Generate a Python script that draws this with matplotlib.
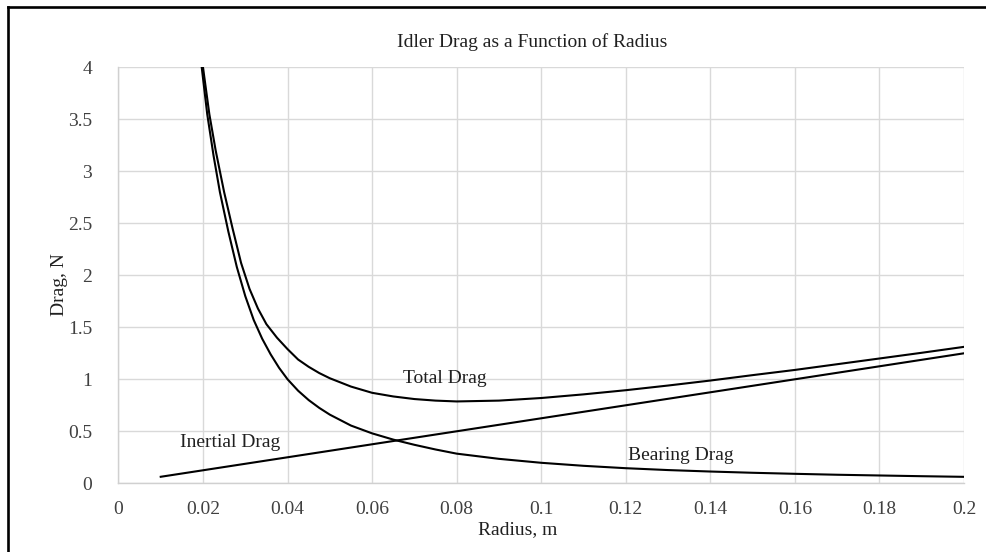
import matplotlib
matplotlib.use('Agg')
import matplotlib.pyplot as plt
from matplotlib.lines import Line2D

plt.rcParams['font.family'] = ['Liberation Serif', 'DejaVu Serif']

# ── Values ──
inertial_r = [0.01, 0.02, 0.03, 0.04, 0.05, 0.06, 0.07, 0.08, 0.09, 0.10,
              0.11, 0.12, 0.13, 0.14, 0.15, 0.16, 0.17, 0.18, 0.19, 0.20]
inertial_drag = [0.0625, 0.125, 0.1875, 0.25, 0.3125, 0.375, 0.4375, 0.5, 0.5625, 0.625,
                 0.6875, 0.75, 0.8125, 0.875, 0.9375, 1.0, 1.0625, 1.125, 1.1875, 1.25]

bearing_r = [0.0197, 0.021, 0.0225, 0.024, 0.026, 0.028, 0.030, 0.032, 0.034, 0.036,
             0.038, 0.040, 0.0425, 0.045, 0.0475, 0.05, 0.055, 0.06, 0.065, 0.07,
             0.075, 0.08, 0.09, 0.10, 0.11, 0.12, 0.13, 0.14, 0.15,
             0.16, 0.17, 0.18, 0.19, 0.20]
bearing_drag = [4.00, 3.55, 3.15, 2.80, 2.42, 2.08, 1.80, 1.57, 1.39, 1.24,
                1.11, 1.00, 0.89, 0.80, 0.725, 0.66, 0.555, 0.48, 0.42, 0.37,
                0.325, 0.285, 0.235, 0.197, 0.168, 0.145, 0.127, 0.113, 0.101,
                0.091, 0.082, 0.075, 0.068, 0.062]

total_r = [0.0200, 0.0215, 0.023, 0.025, 0.027, 0.029, 0.031, 0.033, 0.035, 0.0375,
           0.040, 0.0425, 0.045, 0.0475, 0.05, 0.055, 0.06, 0.065, 0.07, 0.075,
           0.08, 0.09, 0.10, 0.11, 0.12, 0.13, 0.14, 0.15,
           0.16, 0.17, 0.18, 0.19, 0.20]
total_drag = [4.00, 3.55, 3.20, 2.80, 2.45, 2.12, 1.87, 1.68, 1.53, 1.40,
              1.29, 1.19, 1.12, 1.06, 1.01, 0.93, 0.87, 0.835, 0.81, 0.795,
              0.787, 0.795, 0.82, 0.855, 0.895, 0.94, 0.988, 1.04,
              1.09, 1.145, 1.20, 1.255, 1.312]

x_ticks = [0, 0.02, 0.04, 0.06, 0.08, 0.1, 0.12, 0.14, 0.16, 0.18, 0.2]
x_tick_labels = ['0', '0.02', '0.04', '0.06', '0.08', '0.1', '0.12', '0.14', '0.16', '0.18', '0.2']
y_ticks = [0, 0.5, 1, 1.5, 2, 2.5, 3, 3.5, 4]
y_tick_labels = ['0', '0.5', '1', '1.5', '2', '2.5', '3', '3.5', '4']

# ── Plot ──
fig = plt.figure(figsize=(9.87, 5.52), dpi=100)
ax = fig.add_axes([0.120, 0.1245, 0.8567, 0.7535])

ax.plot(total_r, total_drag, color='black', linewidth=1.5)
ax.plot(bearing_r, bearing_drag, color='black', linewidth=1.5)
ax.plot(inertial_r, inertial_drag, color='black', linewidth=1.5)

ax.set_xlim(0, 0.2)
ax.set_ylim(0, 4)
ax.set_xticks(x_ticks)
ax.set_xticklabels(x_tick_labels)
ax.set_yticks(y_ticks)
ax.set_yticklabels(y_tick_labels)
ax.tick_params(length=0, labelsize=14, colors='#404040', pad=13)
ax.tick_params(axis='y', pad=19)
ax.grid(True, color='#d9d9d9', linewidth=1)
ax.set_axisbelow(True)
for side in ['top', 'right']:
    ax.spines[side].set_visible(False)
for side in ['left', 'bottom']:
    ax.spines[side].set_color('#d0d0d0')
    ax.spines[side].set_linewidth(1)

# curve labels
ax.text(0.0673, 1.01, 'Total Drag', fontsize=14, color='#202020', va='center')
ax.text(0.0146, 0.39, 'Inertial Drag', fontsize=14, color='#202020', va='center')
ax.text(0.1205, 0.27, 'Bearing Drag', fontsize=14, color='#202020', va='center')

fig.text(0.5387, 0.9245, 'Idler Drag as a Function of Radius', fontsize=14,
         color='#202020', ha='center', va='center')
fig.text(0.524, 0.040, 'Radius, m', fontsize=14, color='#202020', ha='center', va='center')
fig.text(0.060, 0.484, 'Drag, N', fontsize=14, color='#202020', ha='center', va='center',
         rotation=90)

# outer frame (only left and top edges show)
fig.add_artist(Line2D([8.5 / 987, 8.5 / 987], [0, 1 - 7 / 552], transform=fig.transFigure,
                      color='black', linewidth=1.9))
fig.add_artist(Line2D([8.5 / 987, 1], [1 - 7 / 552, 1 - 7 / 552], transform=fig.transFigure,
                      color='black', linewidth=1.9))

plt.savefig('out.png', dpi=100)
